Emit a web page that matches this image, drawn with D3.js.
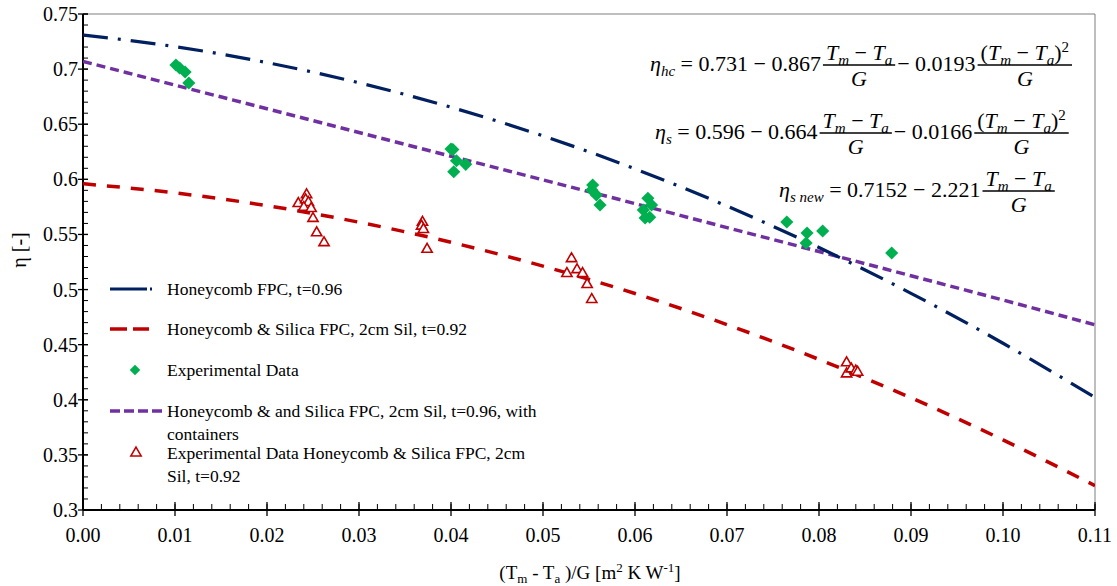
<!DOCTYPE html>
<html>
<head>
<meta charset="utf-8">
<script src="https://cdn.jsdelivr.net/npm/d3@7/dist/d3.min.js"></script>
<style>
  body { margin: 0; background: #fff; }
  svg { display: block; }
</style>
</head>
<body>
<svg id="chart" width="1117" height="586"></svg>
<script>
// model curves, read at every 0.01
const curveX = [0, 0.01, 0.02, 0.03, 0.04, 0.05, 0.06, 0.07, 0.08, 0.09, 0.10, 0.11];
const honeycombVals = [0.731, 0.7204, 0.7059, 0.6876, 0.6654, 0.6394, 0.6095, 0.5757, 0.5381, 0.4966, 0.4513, 0.4021];
const silicaVals = [0.596, 0.5877, 0.5761, 0.5611, 0.5429, 0.5213, 0.4964, 0.4682, 0.4366, 0.4018, 0.3636, 0.3221];
const containerVals = [0.707, 0.6855, 0.664, 0.6425, 0.621, 0.5995, 0.578, 0.5562, 0.5345, 0.5125, 0.4905, 0.468];

// experimental points
const expX = [0.0101, 0.0105, 0.0111, 0.0115, 0.0400, 0.0402, 0.0406, 0.0416, 0.0403,
              0.0554, 0.0553, 0.0558, 0.0562, 0.0614, 0.0618, 0.0609, 0.0616, 0.0611,
              0.0765, 0.0787, 0.0786, 0.0804, 0.0879];
const expY = [0.7037, 0.701, 0.6974, 0.6874, 0.6275, 0.627, 0.6169, 0.6136, 0.6069,
              0.5949, 0.5903, 0.5858, 0.5767, 0.5828, 0.5767, 0.5722, 0.5656, 0.565,
              0.5613, 0.5513, 0.5422, 0.5531, 0.5332];

const silX = [0.0234, 0.0243, 0.0242, 0.0245, 0.0240, 0.0248, 0.0250, 0.0254, 0.0262,
              0.0369, 0.0368, 0.0370, 0.0374,
              0.0531, 0.0526, 0.0537, 0.0543, 0.0548, 0.0553,
              0.0830, 0.0830, 0.0835, 0.0840, 0.0842];
const silY = [0.578, 0.586, 0.5815, 0.579, 0.5745, 0.5735, 0.5645, 0.5515, 0.5425,
              0.561, 0.5575, 0.5545, 0.5365,
              0.528, 0.5145, 0.518, 0.5145, 0.5045, 0.491,
              0.4335, 0.4235, 0.428, 0.426, 0.425];

const xTicks = [0, 0.01, 0.02, 0.03, 0.04, 0.05, 0.06, 0.07, 0.08, 0.09, 0.10, 0.11];
const xTickLabels = ["0.00", "0.01", "0.02", "0.03", "0.04", "0.05", "0.06", "0.07", "0.08", "0.09", "0.10", "0.11"];
const yTicks = [0.3, 0.35, 0.4, 0.45, 0.5, 0.55, 0.6, 0.65, 0.7, 0.75];
const yTickLabels = ["0.3", "0.35", "0.4", "0.45", "0.5", "0.55", "0.6", "0.65", "0.7", "0.75"];

const legendLabels = [
  ["Honeycomb FPC, t=0.96"],
  ["Honeycomb & Silica FPC, 2cm Sil, t=0.92"],
  ["Experimental Data"],
  ["Honeycomb & and Silica FPC, 2cm Sil, t=0.96, with", "containers"],
  ["Experimental Data Honeycomb & Silica FPC, 2cm", "Sil, t=0.92"]
];

const navy = "#002060", red = "#c00000", purple = "#7030a0", green = "#00b050";

const svg = d3.select("#chart")
  .attr("font-family", "'Times New Roman', 'Liberation Serif', serif");
const pLeft = 83, pRight = 1095, pTop = 14, pBottom = 510;

const x = d3.scaleLinear().domain([0, 0.11]).range([pLeft, pRight]);
const y = d3.scaleLinear().domain([0.3, 0.75]).range([pBottom, pTop]);

svg.append("defs").append("clipPath").attr("id", "plot")
   .append("rect").attr("x", pLeft).attr("y", pTop).attr("width", pRight - pLeft).attr("height", pBottom - pTop);

// frame
svg.append("line").attr("x1", pLeft).attr("x2", pRight).attr("y1", pTop).attr("y2", pTop)
   .attr("stroke", "#7f7f7f").attr("stroke-width", 1);
svg.append("line").attr("x1", pRight).attr("x2", pRight).attr("y1", pTop).attr("y2", pBottom)
   .attr("stroke", "#7f7f7f").attr("stroke-width", 1);

// ticks
const minorY = d3.range(0.30, 0.7501, 0.01);
svg.selectAll(".ymin").data(minorY).enter().append("line")
   .attr("x1", pLeft).attr("x2", pLeft + 5)
   .attr("y1", d => y(d)).attr("y2", d => y(d))
   .attr("stroke", "#000").attr("stroke-width", 1);
svg.selectAll(".ymaj").data(yTicks).enter().append("line")
   .attr("x1", pLeft - 5).attr("x2", pLeft + 5)
   .attr("y1", d => y(d)).attr("y2", d => y(d))
   .attr("stroke", "#000").attr("stroke-width", 1.3);
svg.selectAll(".ylab").data(yTicks).enter().append("text")
   .attr("x", pLeft - 5).attr("y", d => y(d) + 7)
   .attr("text-anchor", "end").attr("font-size", 20)
   .text((d, i) => yTickLabels[i]);

const minorX = d3.range(0, 0.1101, 0.002);
svg.selectAll(".xmin").data(minorX).enter().append("line")
   .attr("x1", d => x(d)).attr("x2", d => x(d))
   .attr("y1", pBottom).attr("y2", pBottom - 6)
   .attr("stroke", "#000").attr("stroke-width", 1);
svg.selectAll(".xmaj").data(xTicks).enter().append("line")
   .attr("x1", d => x(d)).attr("x2", d => x(d))
   .attr("y1", pBottom - 8).attr("y2", pBottom + 6)
   .attr("stroke", "#000").attr("stroke-width", 1.3);
svg.selectAll(".xlab").data(xTicks).enter().append("text")
   .attr("x", d => x(d)).attr("y", pBottom + 32)
   .attr("text-anchor", "middle").attr("font-size", 20)
   .text((d, i) => xTickLabels[i]);

svg.append("line").attr("x1", pLeft).attr("x2", pLeft).attr("y1", pTop).attr("y2", pBottom)
   .attr("stroke", "#000").attr("stroke-width", 2);
svg.append("line").attr("x1", pLeft).attr("x2", pRight).attr("y1", pBottom).attr("y2", pBottom)
   .attr("stroke", "#000").attr("stroke-width", 2);

// axis titles
svg.append("text").attr("transform", "translate(26,250) rotate(-90)")
   .attr("text-anchor", "middle").attr("font-size", 20).text("η [-]");

const xt = svg.append("text").attr("x", 590).attr("y", 579)
   .attr("text-anchor", "middle").attr("font-size", 19);
xt.append("tspan").text("(T");
xt.append("tspan").attr("font-size", 13).attr("dy", 4).text("m");
xt.append("tspan").attr("dy", -4).text(" - T");
xt.append("tspan").attr("font-size", 13).attr("dy", 4).text("a");
xt.append("tspan").attr("dy", -4).text(" )/G [m");
xt.append("tspan").attr("font-size", 13).attr("dy", -7).text("2");
xt.append("tspan").attr("dy", 7).text(" K W");
xt.append("tspan").attr("font-size", 13).attr("dy", -7).text("-1");
xt.append("tspan").attr("dy", 7).text("]");

// curves
const plot = svg.append("g").attr("clip-path", "url(#plot)");
const line = vals => d3.line().x((d, i) => x(curveX[i])).y(d => y(d)).curve(d3.curveMonotoneX)(vals);

plot.append("path").attr("d", line(containerVals)).attr("fill", "none")
    .attr("stroke", purple).attr("stroke-width", 3.5).attr("stroke-dasharray", "9,5");
plot.append("path").attr("d", line(silicaVals)).attr("fill", "none")
    .attr("stroke", red).attr("stroke-width", 3.5).attr("stroke-dasharray", "13,11");
plot.append("path").attr("d", line(honeycombVals)).attr("fill", "none")
    .attr("stroke", navy).attr("stroke-width", 3.2).attr("stroke-dasharray", "25,10,3,10");

// markers
const diamond = d3.symbol().type(d3.symbolDiamond2).size(110);
const triangle = d3.symbol().type(d3.symbolTriangle2).size(75);

plot.selectAll(".tri").data(silX).enter().append("path")
    .attr("d", triangle)
    .attr("transform", (d, i) => `translate(${x(d)},${y(silY[i])})`)
    .attr("fill", "#fff").attr("stroke", red).attr("stroke-width", 1.6);

plot.selectAll(".dia").data(expX).enter().append("path")
    .attr("d", diamond)
    .attr("transform", (d, i) => `translate(${x(d)},${y(expY[i])})`)
    .attr("fill", green);

// legend
const legendRowY = [289, 329, 370, 411, 453];
const lg = svg.append("g");
lg.append("line").attr("x1", 110).attr("x2", 152).attr("y1", legendRowY[0]).attr("y2", legendRowY[0])
  .attr("stroke", navy).attr("stroke-width", 3.2).attr("stroke-dasharray", "37,3,3,20");
lg.append("line").attr("x1", 110).attr("x2", 149).attr("y1", legendRowY[1]).attr("y2", legendRowY[1])
  .attr("stroke", red).attr("stroke-width", 3.5).attr("stroke-dasharray", "17,6");
lg.append("path").attr("d", d3.symbol().type(d3.symbolDiamond2).size(70))
  .attr("transform", `translate(135,${legendRowY[2]})`).attr("fill", green);
lg.append("line").attr("x1", 110).attr("x2", 163).attr("y1", legendRowY[3]).attr("y2", legendRowY[3])
  .attr("stroke", purple).attr("stroke-width", 3.5).attr("stroke-dasharray", "10,4");
lg.append("path").attr("d", triangle)
  .attr("transform", `translate(136,${legendRowY[4]})`)
  .attr("fill", "#fff").attr("stroke", red).attr("stroke-width", 1.6);

legendLabels.forEach((lines, i) => {
  lines.forEach((t, j) => {
    lg.append("text").attr("x", 167).attr("y", legendRowY[i] + 6 + j * 23)
      .attr("font-size", 17.5).text(t);
  });
});

// equations
const eqFont = 22, subFont = 15;
function addRun(g, x0, yb, runs, anchor) {
  const t = g.append("text").attr("x", x0).attr("y", yb).attr("font-size", eqFont)
             .attr("text-anchor", anchor || "start");
  let shift = 0;
  runs.forEach(r => {
    const target = r.sub ? 5 : r.sup ? -8 : 0;
    const sp = t.append("tspan").attr("dy", target - shift).text(r.s);
    if (r.i) sp.attr("font-style", "italic");
    if (r.sub || r.sup) sp.attr("font-size", subFont);
    shift = target;
  });
  return t;
}
function drawEq(x0, yb, pieces) {
  const g = svg.append("g");
  let cx = x0;
  const barY = yb - 6;
  pieces.forEach(p => {
    if (p.frac) {
      const num = addRun(g, 0, barY - 5, p.frac[0], "middle");
      const den = addRun(g, 0, barY + 21, p.frac[1], "middle");
      const w = Math.max(num.node().getComputedTextLength(), den.node().getComputedTextLength()) + 6;
      num.attr("x", cx + w / 2);
      den.attr("x", cx + w / 2);
      g.append("line").attr("x1", cx).attr("x2", cx + w).attr("y1", barY).attr("y2", barY)
       .attr("stroke", "#000").attr("stroke-width", 1.4);
      cx += w + 2;
    } else {
      const t = addRun(g, cx, yb, p);
      cx += t.node().getComputedTextLength() + 2;
    }
  });
}
const tmta = [{s: "T", i: true}, {s: "m", i: true, sub: true}, {s: " − "}, {s: "T", i: true}, {s: "a", i: true, sub: true}];
const tmtaSq = [{s: "("}, {s: "T", i: true}, {s: "m", i: true, sub: true}, {s: " − "}, {s: "T", i: true}, {s: "a", i: true, sub: true}, {s: ")"}, {s: "2", sup: true}];
const gDen = [{s: "G", i: true}];

drawEq(650, 71, [
  [{s: "η", i: true}, {s: "hc", i: true, sub: true}, {s: " = 0.731 − 0.867"}],
  {frac: [tmta, gDen]},
  [{s: " − 0.0193"}],
  {frac: [tmtaSq, gDen]}
]);
drawEq(655, 139, [
  [{s: "η", i: true}, {s: "s", i: true, sub: true}, {s: " = 0.596 − 0.664"}],
  {frac: [tmta, gDen]},
  [{s: " − 0.0166 "}],
  {frac: [tmtaSq, gDen]}
]);
drawEq(779, 197, [
  [{s: "η", i: true}, {s: "s new", i: true, sub: true}, {s: " = 0.7152 − 2.221"}],
  {frac: [tmta, gDen]}
]);
</script>
</body>
</html>
